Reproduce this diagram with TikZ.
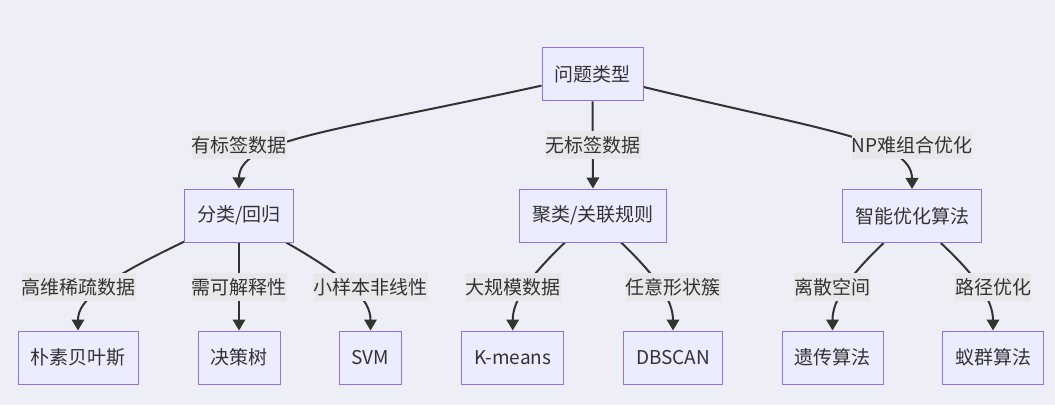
\documentclass[tikz,border=0pt]{standalone}
\usepackage{fontspec}
\setmainfont{Noto Sans CJK SC}
\usepackage{xcolor}
\usetikzlibrary{arrows.meta,backgrounds}

\definecolor{bgcol}{HTML}{EEEEF6}
\definecolor{boxfill}{HTML}{ECECFF}
\definecolor{boxline}{HTML}{9370DB}
\definecolor{lblfill}{HTML}{E8E8EB}
\definecolor{ink}{HTML}{333333}

\begin{document}
\begin{tikzpicture}[x=1pt, y=1pt,
    box/.style={rectangle, draw=boxline, fill=boxfill, line width=1pt, text=ink,
        inner xsep=12.5pt, inner ysep=0pt, minimum height=53pt,
        font=\fontsize{19pt}{23pt}\selectfont},
    lbl/.style={rectangle, fill=lblfill, text=ink, inner sep=0pt, minimum height=28pt,
        font=\fontsize{19pt}{23pt}\selectfont},
    edge/.style={draw=ink, line width=2pt, -{Triangle[length=11pt,width=12.5pt]}},
    link/.style={draw=ink, line width=2pt}]
    \useasboundingbox (0,0) rectangle (1055,405);

    % Nodes
    \node[box] (root) at (592.5,330.5) {问题类型};
    \node[box] (cls) at (239,189.5) {分类/回归};
    \node[box] (clu) at (593,189.5) {聚类/关联规则};
    \node[box] (opt) at (912,189) {智能优化算法};
    \node[box] (nb) at (78,47.5) {朴素贝叶斯};
    \node[box] (dt) at (239,47.5) {决策树};
    \node[box] (svm) at (370.5,47.5) {SVM};
    \node[box] (km) at (512.7,47.5) {K-means};
    \node[box] (db) at (673,47.5) {DBSCAN};
    \node[box] (ga) at (832.5,47.5) {遗传算法};
    \node[box] (aco) at (993,47.5) {蚁群算法};

    % Edge labels
    \node[lbl] (l1) at (239,260) {有标签数据};
    \node[lbl] (l2) at (593,260) {无标签数据};
    \node[lbl] (l3) at (912,260) {NP难组合优化};
    \node[lbl] (m1) at (78.5,118) {高维稀疏数据};
    \node[lbl] (m2) at (239,118) {需可解释性};
    \node[lbl] (m3) at (370.7,118) {小样本非线性};
    \node[lbl] (m4) at (513,118) {大规模数据};
    \node[lbl] (m5) at (673,118) {任意形状簇};
    \node[lbl] (m6) at (832,118) {离散空间};
    \node[lbl] (m7) at (993,118) {路径优化};

    % Edges
    \begin{scope}[on background layer]
        \fill[bgcol] (0,0) rectangle (1055,405);
        \draw[edge] (root) .. controls (330,273) and (239,265) .. (cls);
        \draw[edge] (root) -- (clu);
        \draw[edge] (root) .. controls (820,275) and (912,265) .. (opt);
        \draw[edge] (cls) .. controls (104,125) and (78,105) .. (nb);
        \draw[edge] (cls) -- (dt);
        \draw[edge] (cls) .. controls (350,126) and (370.5,105) .. (svm);
        \draw[edge] (clu) .. controls (530,129) and (512.7,105) .. (km);
        \draw[edge] (clu) .. controls (656,129) and (673,105) .. (db);
        \draw[edge] (opt) .. controls (849,129) and (832.5,105) .. (ga);
        \draw[edge] (opt) .. controls (976,129) and (993,105) .. (aco);
    \end{scope}
\end{tikzpicture}
\end{document}
